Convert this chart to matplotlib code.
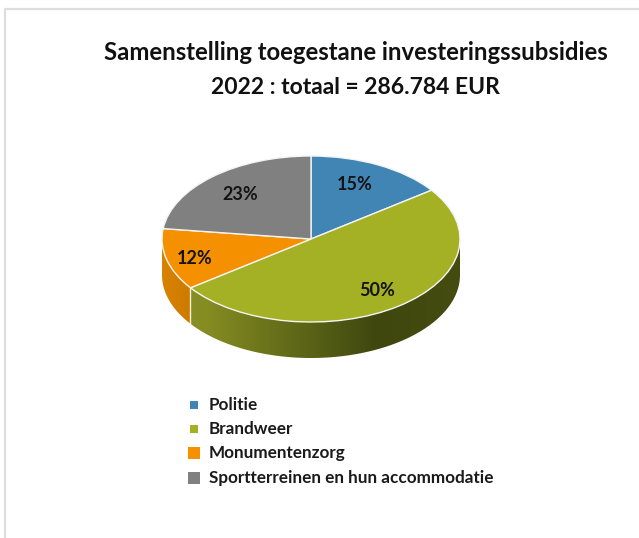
import numpy as np
import matplotlib
matplotlib.use("Agg")
import matplotlib.pyplot as plt
from matplotlib.colors import LinearSegmentedColormap
from matplotlib.patches import Polygon

categories = ["Politie", "Brandweer", "Monumentenzorg", "Sportterreinen en hun accommodatie"]
values = [15, 50, 12, 23]
colors = ["#4185b5", "#a4b125", "#f59000", "#808080"]
title_lines = ["Samenstelling toegestane investeringssubsidies", "2022 : totaal = 286.784 EUR"]

W, H = 639, 538
FONT = "Lato"

fig = plt.figure(figsize=(W / 100, H / 100), dpi=100)

# page in pixel coordinates: frame, title, legend
page = fig.add_axes([0, 0, 1, 1])
page.set_xlim(0, W)
page.set_ylim(H, 0)
page.axis("off")
page.plot([5, 5, W], [H, 9, 9], color="#dddddd", lw=1.6)

page.text(355.5, 60, title_lines[0], ha="center", va="baseline", fontsize=17.2,
          fontweight="bold", family=FONT, color="#111111")
page.text(355.5, 94, title_lines[1], ha="center", va="baseline", fontsize=16.5,
          fontweight="bold", family=FONT, color="#111111")

legend_y = [405, 429, 453, 478]
marker_size = [38, 38, 80, 80]
for name, col, y, s in zip(categories, colors, legend_y, marker_size):
    page.scatter([194], [y], marker="s", s=s, color=col, linewidths=0)
    page.text(209, y, name, va="center", ha="left", fontsize=12.3, fontweight="bold",
              family=FONT, color="#1a1a1a")

# pie axes: x -1..1 is the ellipse width, y 1..-1 its height, the rest is the wall
rx, ry = 149, 83
cx, cy = 311, 239
depth = 36 / ry
ax = fig.add_axes([(cx - rx) / W, 1 - (cy + ry + 36) / H, 2 * rx / W, (2 * ry + 36) / H])


def wall(t_start, t_end, stops):
    # t in degrees clockwise from 12 o'clock, gradient runs left to right over the axes
    ts = np.radians(np.linspace(t_start, t_end, 120))
    x, y = np.sin(ts), np.cos(ts)
    outline = np.r_[np.c_[x, y], np.c_[x, y - depth][::-1]]
    clip = Polygon(outline, closed=True, transform=ax.transData, fc="none", ec="none")
    ax.add_patch(clip)
    cmap = LinearSegmentedColormap.from_list("wall", stops)
    im = ax.imshow(np.linspace(0, 1, 256).reshape(1, -1), cmap=cmap, aspect="auto",
                   extent=(-1, 1, -1 - depth, 1), zorder=1)
    im.set_clip_path(clip)


ends = np.cumsum(values) / sum(values) * 360
wall(90, ends[1], [(0, "#8a9124"), (0.15, "#858c22"), (0.45, "#5f6818"), (0.72, "#3f470f"), (1, "#444c10")])
wall(ends[1], 270, [(0, "#d98200"), (0.1, "#cc7a00"), (1, "#cc7a00")])
ax.plot([np.sin(np.radians(ends[1]))] * 2,
        [np.cos(np.radians(ends[1])), np.cos(np.radians(ends[1])) - depth],
        color="#f2f2e0", lw=1, zorder=2)

wedges, texts, autotexts = ax.pie(values, colors=colors, startangle=90, counterclock=False,
                                  autopct="%d%%", wedgeprops=dict(edgecolor="#f4f4f4", lw=1, zorder=3),
                                  textprops=dict(fontsize=13, fontweight="bold", family=FONT, color="#141414"))
ax.set_aspect("auto")
ax.set_xlim(-1, 1)
ax.set_ylim(-1 - depth, 1)
ax.axis("off")

label_px = [(355, 184), (377, 290), (195, 258), (240, 194)]
for t, (px, py) in zip(autotexts, label_px):
    t.set_position(((px - cx) / rx, (cy - py) / ry))
    t.set_zorder(5)

fig.savefig("out.png", dpi=100)
